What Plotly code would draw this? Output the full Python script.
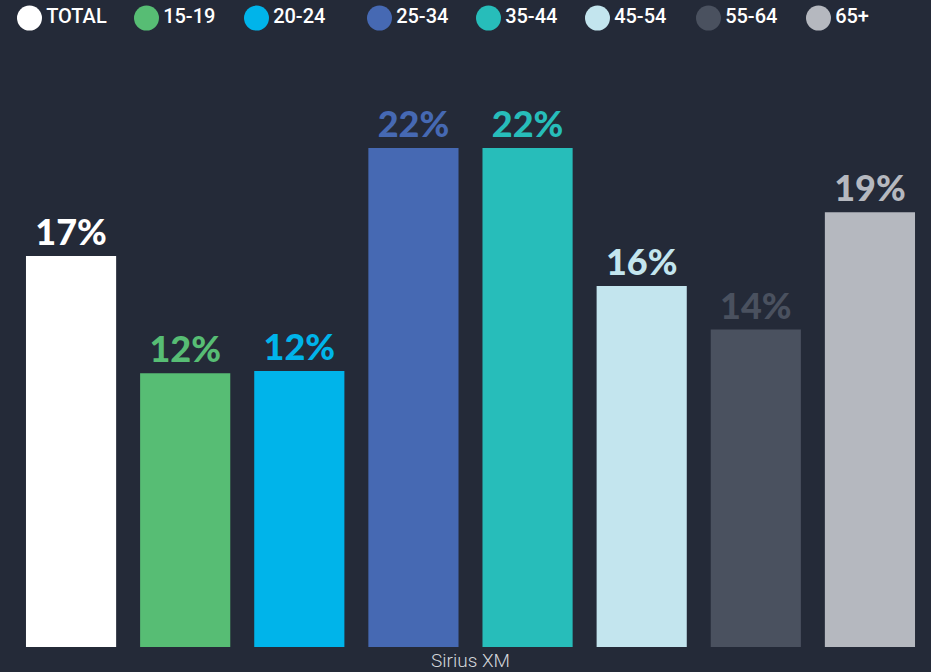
import plotly.graph_objects as go

# data
groups = ["TOTAL", "15-19", "20-24", "25-34", "35-44", "45-54", "55-64", "65+"]
shares = [17.0, 11.9, 12.0, 21.7, 21.7, 15.7, 13.8, 18.9]
category = "Sirius XM"

colors = ["#ffffff", "#57bd74", "#00b4ea", "#4669b3", "#27bdba", "#c3e5ee", "#4a515f", "#b5b8bf"]
bg = "#242a38"

# legend item centres in pixels (style only)
legend_px = [29.5, 146.5, 256.5, 379.5, 488.5, 597.5, 708.5, 818.5]

fig = go.Figure()

for name, val, col in zip(groups, shares, colors):
    fig.add_trace(go.Bar(
        x=[category],
        y=[val],
        name=name,
        marker=dict(color=col, line=dict(width=0)),
        texttemplate="%{y:.0f}%",
        textposition="outside",
        outsidetextfont=dict(family="Lato", size=36, color=col, weight=900),
        cliponaxis=False,
        showlegend=False,
        hoverinfo="skip",
    ))

# custom legend row with big circles
fig.add_trace(go.Scatter(
    x=legend_px,
    y=[0.6] * len(groups),
    xaxis="x2",
    yaxis="y2",
    mode="markers+text",
    marker=dict(size=25, color=colors, line=dict(width=0)),
    text=groups,
    textposition="middle right",
    textfont=dict(family="Roboto", size=20, color="#ffffff", weight=500),
    showlegend=False,
    hoverinfo="skip",
    cliponaxis=False,
))

fig.update_layout(
    width=931,
    height=672,
    margin=dict(l=14, r=4, t=0, b=25),
    paper_bgcolor=bg,
    plot_bgcolor=bg,
    barmode="group",
    bargap=0,
    bargroupgap=0.21,
    hovermode=False,
    xaxis=dict(
        showgrid=False, zeroline=False, showline=False, ticks="",
        tickfont=dict(family="Roboto", size=19, color="#d3d6db", weight=300),
        automargin=False,
    ),
    yaxis=dict(
        domain=[0, 575 / 647], range=[0, 25],
        showgrid=False, zeroline=False, showline=False, showticklabels=False,
    ),
    xaxis2=dict(
        domain=[0, 1], range=[14, 927], overlaying="x", anchor="y2",
        visible=False,
    ),
    yaxis2=dict(
        domain=[1 - 45.3 / 647, 1], range=[0, 1], anchor="x2",
        visible=False,
    ),
)

fig.write_html(
    "out.html",
    config={"displayModeBar": False},
    post_script="document.body.style.margin='0';document.body.style.overflow='hidden';",
)
